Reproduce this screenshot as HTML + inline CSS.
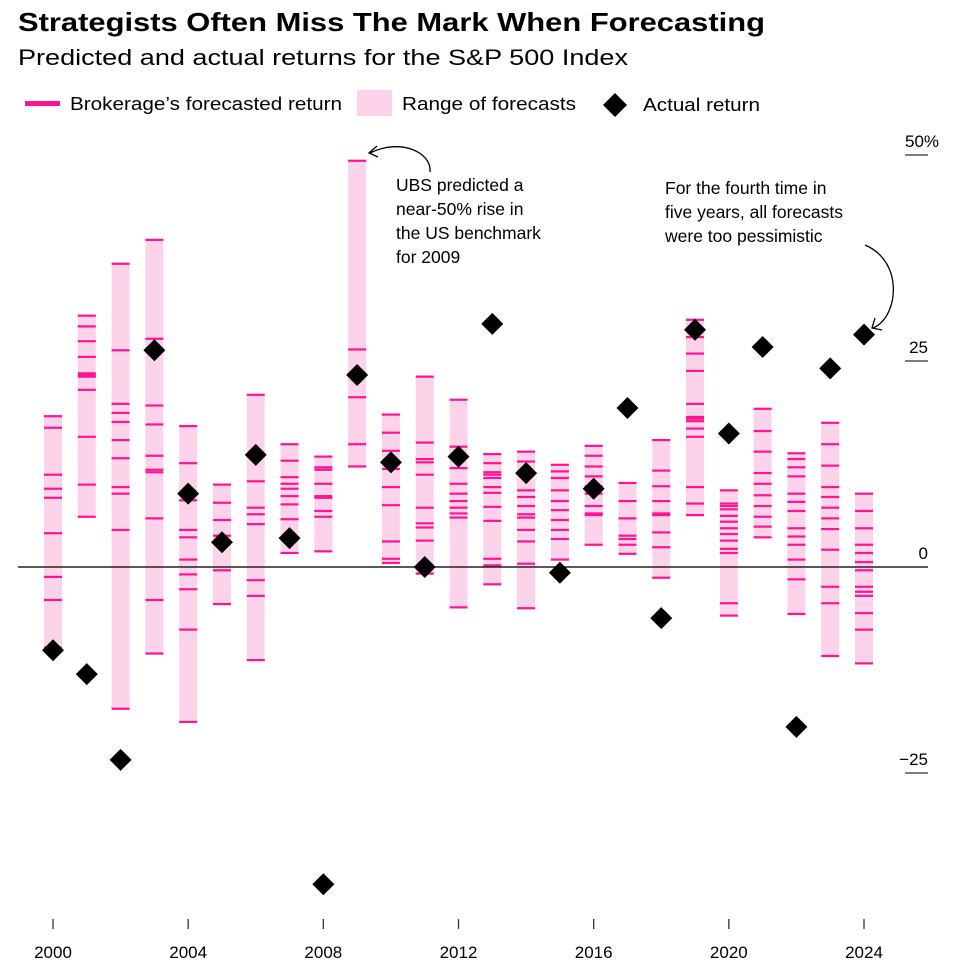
<!DOCTYPE html>
<html><head><meta charset="utf-8"><style>
html,body{margin:0;padding:0;background:#fff;}
svg{display:block;font-family:"Liberation Sans",Arial,sans-serif;}
</style></head><body>
<svg id="chart" width="972" height="969" viewBox="0 0 972 969">
<text x="18" y="31" font-size="26" font-weight="bold" fill="#000" textLength="747" lengthAdjust="spacingAndGlyphs">Strategists Often Miss The Mark When Forecasting</text>
<text x="18" y="65" font-size="22" fill="#000" textLength="610" lengthAdjust="spacingAndGlyphs">Predicted and actual returns for the S&amp;P 500 Index</text>
<g>
<rect x="25" y="101" width="35" height="5" fill="#ff1493"/>
<text x="70" y="110" font-size="18" textLength="272" lengthAdjust="spacingAndGlyphs">Brokerage’s forecasted return</text>
<rect x="357" y="90" width="35" height="26" fill="#fdd3ea"/>
<text x="402" y="110" font-size="18" textLength="174" lengthAdjust="spacingAndGlyphs">Range of forecasts</text>
<path d="M615,93 L627,105 L615,117 L603,105 Z" fill="#000"/>
<text x="643" y="111" font-size="18" textLength="117" lengthAdjust="spacingAndGlyphs">Actual return</text>
</g>
<g id="plot"></g>
<g>
<path d="M430,172 C432,152 400,138 370,153" fill="none" stroke="#000" stroke-width="1.3"/>
<path d="M377,146 L369,153 L378,157" fill="none" stroke="#000" stroke-width="1.3"/>
<text font-size="17.5" fill="#000">
<tspan x="396" y="191">UBS predicted a</tspan><tspan x="396" y="215">near-50% rise in</tspan><tspan x="396" y="239">the US benchmark</tspan><tspan x="396" y="263">for 2009</tspan></text>
</g>
<g>
<path d="M865,245 C905,262 898,318 873,328" fill="none" stroke="#000" stroke-width="1.3"/>
<path d="M875,318 L872,328 L882,330" fill="none" stroke="#000" stroke-width="1.3"/>
<text font-size="17.5" fill="#000">
<tspan x="665" y="194">For the fourth time in</tspan><tspan x="665" y="218">five years, all forecasts</tspan><tspan x="665" y="242">were too pessimistic</tspan></text>
</g>
</svg>
<script>
const years = [2000,2001,2002,2003,2004,2005,2006,2007,2008,2009,2010,2011,2012,2013,2014,2015,2016,2017,2018,2019,2020,2021,2022,2023,2024];
const actualReturns = [-10.1,-13.0,-23.4,26.3,8.9,3.0,13.6,3.5,-38.5,23.3,12.7,0.0,13.4,29.5,11.4,-0.7,9.5,19.3,-6.2,28.8,16.2,26.7,-19.4,24.1,28.2];
const f2000 = [18.3,16.9,11.2,9.5,8.4,4.1,-1.2,-4.0,-9.8];
const f2001 = [30.5,29.2,27.4,25.5,23.5,23.3,23.1,21.5,15.8,10.0,6.1];
const f2002 = [36.8,26.3,19.8,18.7,17.6,15.4,13.2,9.7,8.9,4.5,-17.2];
const f2003 = [39.7,27.7,19.6,17.3,13.5,11.8,11.5,5.9,-4.0,-10.5];
const f2004 = [17.1,12.6,8.1,4.5,3.6,0.9,-0.9,-2.7,-7.6,-18.8];
const f2005 = [10.0,7.8,5.7,3.8,-0.4,-4.5];
const f2006 = [20.9,10.4,7.2,6.4,5.2,-1.6,-3.5,-11.3];
const f2007 = [14.9,12.9,10.9,10.1,9.5,8.6,7.6,5.8,1.7];
const f2008 = [13.4,12.1,11.8,10.1,8.6,8.4,6.8,6.1,1.9];
const f2009 = [49.3,26.4,20.6,14.9,12.2];
const f2010 = [18.5,16.3,14.1,11.9,9.7,7.5,3.1,1.0,0.5];
const f2011 = [23.1,15.1,13.1,12.7,11.2,7.2,5.3,4.8,3.2,-0.8];
const f2012 = [20.3,14.6,12.0,10.1,8.9,8.0,7.2,6.5,6.0,-4.9];
const f2013 = [13.7,12.6,11.5,11.2,10.8,9.7,9.0,7.3,5.6,1.0,0.2,-2.1];
const f2014 = [14.0,12.8,9.3,8.5,7.4,6.4,6.0,4.5,3.1,0.4,-5.0];
const f2015 = [12.4,11.6,10.8,9.3,8.0,6.9,5.7,4.5,3.4,0.9];
const f2016 = [14.7,13.5,12.2,11.0,9.8,8.9,7.4,6.5,6.3,2.7];
const f2017 = [10.2,8.0,5.9,3.8,3.4,2.7,1.6];
const f2018 = [15.4,11.7,9.8,8.0,6.5,6.3,4.2,2.4,-1.3];
const f2019 = [30.0,27.9,25.9,23.8,19.8,18.2,18.0,17.7,16.8,15.8,9.7,7.7,6.3];
const f2020 = [9.3,7.7,7.4,7.0,6.2,5.5,4.7,4.0,3.2,2.2,1.7,-4.4,-5.9];
const f2021 = [19.2,16.5,14.0,11.4,10.1,8.7,7.4,6.1,4.9,3.6];
const f2022 = [13.8,13.1,12.1,11.0,8.9,7.9,6.8,4.7,3.7,2.7,0.9,-1.5,-5.7];
const f2023 = [17.5,14.9,12.3,9.7,8.5,7.2,5.9,4.6,2.1,-2.4,-4.4,-10.8];
const f2024 = [8.9,6.8,4.7,2.7,1.7,0.6,-0.4,-2.4,-3.0,-3.5,-5.6,-7.6,-11.7];
const forecasts = [f2000,f2001,f2002,f2003,f2004,f2005,f2006,f2007,f2008,f2009,f2010,f2011,f2012,f2013,f2014,f2015,f2016,f2017,f2018,f2019,f2020,f2021,f2022,f2023,f2024];
const yTicks = [50,25,0,-25];
const yTickLabels = ["50%","25","0","\u221225"];
const xTickYears = [2000,2004,2008,2012,2016,2020,2024];

const NS = "http://www.w3.org/2000/svg";
const plot = document.getElementById("plot");
function xScale(yr){ return 53 + (yr - 2000) * (864 - 53) / 24; }
function yScale(v){ return 567 - v * 8.24; }
function mk(tag, attrs, parent){ const e = document.createElementNS(NS, tag); for (const k in attrs) e.setAttribute(k, attrs[k]); (parent||plot).appendChild(e); return e; }

// y axis
yTicks.forEach((t,i)=>{
  const y = yScale(t);
  const lbl = mk("text", {x: 928, y: y - 8, "font-size": 17, "text-anchor": "end", fill: "#000"});
  
  
  lbl.textContent = yTickLabels[i];
  if (t === 50) { lbl.setAttribute("text-anchor","start"); lbl.setAttribute("x", 905); }
  if (t !== 0) {
    const ln = mk("line", {x1: 905, x2: 928, y1: y, y2: y, stroke: "#333", "stroke-width": 1.3});
    
    
  }
});
// bars
years.forEach((yr,i)=>{
  const vals = forecasts[i];
  const x = xScale(yr);
  const mx = Math.max(...vals), mn = Math.min(...vals);
  const r = mk("rect", {x: x - 9, y: yScale(mx) - 1, width: 18, height: yScale(mn) - yScale(mx) + 2, fill: "#fdd3ea"});
  
  
  vals.forEach(v=>{
    const t = mk("rect", {x: x - 9, y: yScale(v) - 1.1, width: 18, height: 2.2, fill: "#ff1493"});
    
    
  });
});
// zero line
const zl = mk("line", {x1: 18, x2: 928, y1: yScale(0), y2: yScale(0), stroke: "#222", "stroke-width": 1.4});


// actual diamonds
years.forEach((yr,i)=>{
  const x = xScale(yr), y = yScale(actualReturns[i]);
  const d = mk("path", {d: `M${x},${y-11} L${x+11},${y} L${x},${y+11} L${x-11},${y} Z`, fill: "#000"});
  
  
});
// x axis
xTickYears.forEach(yr=>{
  const x = xScale(yr);
  const tk = mk("line", {x1: x, x2: x, y1: 919, y2: 929, stroke: "#333", "stroke-width": 1.3});
  
  
  const lb = mk("text", {x: x, y: 958, "font-size": 17, "text-anchor": "middle", fill: "#000"});
  
  
  lb.textContent = yr;
});
</script>
</body></html>
